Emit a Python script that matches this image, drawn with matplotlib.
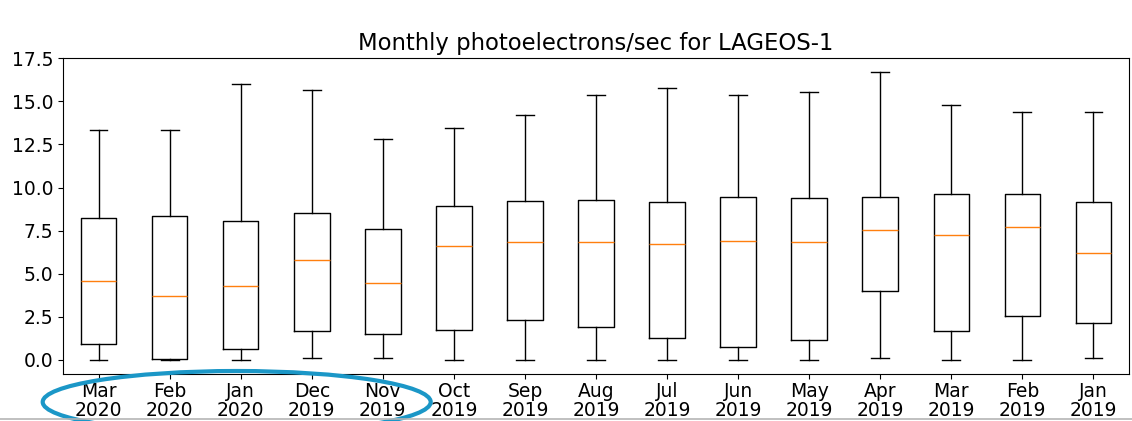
import matplotlib
matplotlib.use('Agg')
import matplotlib.pyplot as plt
from matplotlib.patches import Ellipse
from matplotlib.lines import Line2D

# 月份标签（从新到旧）
months = ['Mar\n2020', 'Feb\n2020', 'Jan\n2020', 'Dec\n2019', 'Nov\n2019',
          'Oct\n2019', 'Sep\n2019', 'Aug\n2019', 'Jul\n2019', 'Jun\n2019',
          'May\n2019', 'Apr\n2019', 'Mar\n2019', 'Feb\n2019', 'Jan\n2019']

# 箱线图统计量
whis_low = [0.0, 0.0, 0.0, 0.08, 0.08, 0.0, 0.0, 0.0, 0.0, 0.0, 0.0, 0.08, 0.0, 0.0, 0.12]
q1 = [0.91, 0.02, 0.60, 1.66, 1.51, 1.70, 2.30, 1.87, 1.24, 0.75, 1.16, 3.98, 1.66, 2.55, 2.14]
median = [4.57, 3.69, 4.28, 5.81, 4.48, 6.58, 6.83, 6.81, 6.71, 6.91, 6.85, 7.55, 7.24, 7.72, 6.21]
q3 = [8.22, 8.36, 8.07, 8.51, 7.58, 8.95, 9.24, 9.30, 9.16, 9.45, 9.38, 9.45, 9.63, 9.63, 9.16]
whis_high = [13.33, 13.33, 16.01, 15.67, 12.81, 13.45, 14.24, 15.40, 15.78, 15.40, 15.55, 16.69, 14.80, 14.37, 14.37]

stats = []
for lab, lo, a, m, b, hi in zip(months, whis_low, q1, median, q3, whis_high):
    stats.append({'label': lab, 'whislo': lo, 'q1': a, 'med': m, 'q3': b,
                  'whishi': hi, 'fliers': []})

fig = plt.figure(figsize=(11.32, 4.21), dpi=100)
ax = fig.add_axes([0.0557, 0.1116, 0.9416, 0.7506])

ax.bxp(stats, showfliers=False)

ax.set_title('Monthly photoelectrons/sec for LAGEOS-1', fontsize=16.4)
ax.tick_params(axis='both', labelsize=13.5)
ax.tick_params(axis='x', pad=2)
for lab in ax.get_xticklabels():
    lab.set_linespacing(1.05)

# 截图里的蓝色圈注和底部灰线
fig.add_artist(Ellipse((236.7 / 1132, 1 - 402 / 421), 388 / 1132, 62 / 421,
                       transform=fig.transFigure, fill=False,
                       edgecolor='#1b97c7', linewidth=3, clip_on=False))
fig.add_artist(Line2D([0, 1], [0.004, 0.004], transform=fig.transFigure,
                      color='#b5b5b5', linewidth=1.2))

plt.savefig('out.png', dpi=100)
